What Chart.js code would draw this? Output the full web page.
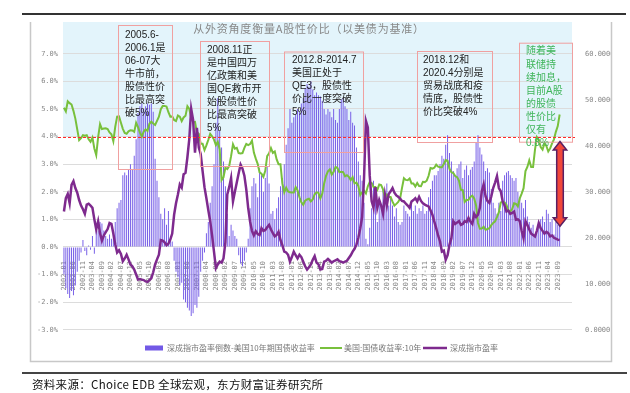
<!DOCTYPE html>
<html><head><meta charset="utf-8">
<script src="https://cdn.jsdelivr.net/npm/chart.js@4.4.0/dist/chart.umd.min.js"></script>
<style>html,body{margin:0;padding:0;background:#fff}#wrap{width:630px;height:393px}</style>
</head><body><div id="wrap"><canvas id="c" width="630" height="393"></canvas></div>
<script>
// monthly categories 2002-01 .. 2024-04 (data ends 2023-10)
const months = [];
for (let y = 2002; y <= 2024; y++) for (let m = 1; m <= 12; m++) {
  if (y === 2024 && m > 4) break;
  months.push(y + '-' + String(m).padStart(2, '0'));
}

// 深成指市盈率倒数-美国10年期国债收益率 (%)
const spread = [
  -1.0,-1.5,-1.7,-1.85,-1.6,-1.75,-1.4,-0.9,-0.5,-0.2,0.25,-0.15,
  -0.3,0.05,-0.1,0.4,-0.25,0.85,0.6,0.9,0.85,0.6,0.4,0.3,
  0.45,0.3,0.5,0.9,1.4,1.6,1.7,2.6,2.7,2.6,2.8,3.0,
  2.8,3.3,3.9,4.85,5.1,5.2,5.0,5.1,5.2,5.15,5.2,4.9,
  3.2,2.4,1.8,1.2,1.0,1.4,0.8,1.3,0.3,0.2,-0.5,-0.9,
  -1.1,-1.4,-1.3,-1.9,-2.0,-2.2,-2.3,-2.5,-2.4,-2.1,-2.2,-1.8,
  -0.9,-0.5,-0.2,0.5,0.9,1.6,2.2,3.0,4.5,5.4,4.2,3.6,
  3.1,2.2,1.2,0.4,0.8,0.6,0.4,0.3,-0.3,-0.6,-0.7,-0.5,
  -0.2,0.3,1.4,2.2,2.5,2.3,1.8,2.85,2.6,2.0,2.5,2.9,
  2.3,1.2,1.3,1.0,1.4,1.8,2.2,2.5,3.0,3.7,4.3,5.0,
  4.5,4.7,4.8,5.0,4.9,5.2,5.4,5.75,5.9,5.8,6.0,5.7,
  5.5,5.6,5.5,5.45,5.3,5.0,4.8,5.0,4.9,4.7,5.0,4.6,
  4.5,5.0,5.34,5.4,5.1,5.0,4.6,4.9,4.5,4.4,3.6,3.1,
  2.6,2.4,1.6,0.3,0.1,0.7,1.4,2.4,1.9,0.9,1.6,1.5,
  2.1,1.7,2.3,1.5,1.8,1.5,1.1,1.4,0.9,0.8,0.9,1.5,
  1.3,1.2,1.1,1.6,1.3,1.5,1.2,1.4,1.3,1.5,1.2,1.3,
  1.8,2.1,2.4,2.6,2.6,2.75,3.0,3.3,3.2,3.7,4.05,3.4,
  3.1,2.75,2.6,2.85,3.0,3.1,2.5,2.8,2.95,2.6,2.8,2.9,
  3.1,3.8,4.05,3.6,3.35,3.1,2.75,2.85,2.7,2.1,1.6,1.4,
  1.2,1.6,1.3,2.4,2.6,2.7,2.75,2.6,2.5,2.4,2.5,2.0,
  1.8,1.6,1.4,1.7,1.1,0.9,0.7,0.8,0.45,0.5,0.9,1.0,
  1.1,0.9,1.35,1.2,0.9,1.0,0.45,0.9,0.8,0.8
];

// 美国:国债收益率:10年 (%)
const ust10y = [
  5.04,4.91,5.28,5.21,5.16,4.93,4.65,4.26,3.87,3.94,4.05,4.03,
  4.05,3.90,3.81,3.96,3.57,3.33,3.98,4.45,4.27,4.29,4.30,4.27,
  4.15,4.08,3.83,4.35,4.72,4.73,4.50,4.28,4.13,4.10,4.19,4.23,
  4.22,4.17,4.50,4.34,4.14,4.00,4.18,4.26,4.20,4.46,4.54,4.47,
  4.42,4.57,4.72,4.99,5.11,5.11,5.09,4.88,4.72,4.73,4.60,4.56,
  4.76,4.72,4.56,4.69,4.75,5.10,5.00,4.67,4.52,4.53,4.15,4.10,
  3.74,3.74,3.51,3.68,3.88,4.10,4.01,3.89,3.69,3.81,3.53,2.42,
  2.52,2.87,2.82,2.93,3.29,3.72,3.56,3.59,3.40,3.39,3.40,3.59,
  3.73,3.69,3.73,3.85,3.42,3.20,3.01,2.70,2.65,2.54,2.76,3.29,
  3.39,3.58,3.41,3.46,3.17,3.00,3.00,2.30,1.98,2.15,2.01,1.98,
  1.97,1.97,2.17,2.05,1.80,1.62,1.53,1.68,1.72,1.75,1.65,1.72,
  1.91,1.98,1.96,1.76,1.93,2.30,2.58,2.74,2.81,2.62,2.72,2.90,
  2.86,2.71,2.72,2.71,2.56,2.60,2.54,2.42,2.53,2.30,2.33,2.21,
  1.88,1.98,2.04,1.94,2.20,2.36,2.32,2.17,2.17,2.07,2.26,2.24,
  2.09,1.78,1.89,1.81,1.81,1.64,1.50,1.56,1.63,1.76,2.14,2.49,
  2.43,2.42,2.48,2.30,2.30,2.19,2.32,2.21,2.20,2.36,2.35,2.40,
  2.58,2.86,2.84,2.87,2.98,2.91,2.89,2.89,3.00,3.15,3.12,2.83,
  2.71,2.68,2.57,2.53,2.40,2.07,2.06,1.63,1.70,1.71,1.81,1.86,
  1.76,1.50,0.87,0.66,0.67,0.73,0.62,0.65,0.68,0.79,0.87,0.93,
  1.08,1.26,1.61,1.64,1.62,1.52,1.32,1.28,1.37,1.58,1.56,1.47,
  1.76,1.93,2.13,2.75,2.90,3.14,2.90,2.90,3.52,3.98,3.89,3.62,
  3.53,3.75,3.66,3.46,3.57,3.75,3.90,4.17,4.38,4.80
];

// 深成指市盈率 (right axis)
const szPE = [
  25.7,28.6,29.5,27.5,31.5,32.3,30.8,29.8,28.2,27.0,26.2,25.2,
  27.2,27.4,27.0,26.5,24.0,21.8,23.6,21.0,19.4,20.5,21.2,21.9,
  23.2,23.0,20.9,18.6,16.8,17.3,16.5,14.9,15.5,16.3,15.3,14.2,
  13.8,13.1,12.0,10.9,11.0,10.9,10.8,10.5,10.4,10.8,11.2,12.5,
  14.2,15.3,16.3,19.5,19.4,19.0,18.4,18.7,19.6,20.9,25.0,27.5,
  29.4,31.6,30.9,33.8,34.1,37.5,41.5,48.0,45.6,38.5,43.9,39.6,
  38.2,34.5,31.0,28.6,26.0,23.6,20.5,17.0,13.4,14.2,14.8,14.6,
  15.5,19.0,29.4,31.0,33.0,27.9,30.0,32.0,34.0,35.9,35.0,33.5,
  30.5,26.5,23.5,21.5,20.5,21.4,20.8,20.6,22.1,21.5,21.7,22.3,
  22.8,21.8,21.0,20.3,20.6,21.3,19.5,18.4,17.0,16.8,16.3,14.8,
  15.8,17.0,16.2,15.5,16.3,15.8,14.8,13.8,13.1,13.6,14.2,15.2,
  16.0,14.6,14.2,13.1,13.2,14.8,15.0,15.4,15.0,14.6,14.9,15.1,
  15.3,14.9,14.8,14.6,14.8,15.0,15.6,16.2,17.0,17.6,18.5,20.0,
  22.0,24.5,33.0,45.4,44.0,33.5,28.0,26.5,31.0,26.5,28.2,27.0,
  25.2,29.4,27.0,29.5,30.1,30.8,29.8,29.2,28.9,28.5,28.0,27.9,
  27.4,27.0,26.5,27.9,28.2,28.6,27.9,28.9,28.0,27.5,27.2,27.0,
  26.8,26.0,25.0,23.5,22.1,20.5,19.2,17.0,17.2,15.2,16.2,18.5,
  19.9,23.6,23.0,23.3,23.6,22.8,23.0,23.6,23.4,24.3,23.5,23.0,
  25.2,24.5,25.0,26.5,30.1,31.6,29.0,28.0,27.6,29.0,30.8,32.0,
  33.4,30.8,30.1,27.9,27.0,25.7,25.9,25.2,25.4,25.7,23.9,24.0,
  23.6,21.5,19.9,23.6,22.8,21.8,20.9,20.6,20.3,21.5,23.2,22.1,
  21.5,20.9,21.3,21.0,20.3,20.5,20.0,19.8,19.6,19.5
];

const leftTicks = [-3, -2, -1, 0, 1, 2, 3, 4, 5, 6, 7];
const rightTicks = [0, 10, 20, 30, 40, 50, 60];
const lastLabelIndex = 260; // 2023-09

const titleText = '从外资角度衡量A股性价比（以美债为基准）';
const sourceText = '资料来源：Choice EDB 全球宏观，东方财富证券研究所';
const notes = [
  { lines: ['2005.6-', '2006.1是', '06-07大', '牛市前，', '股债性价', '比最高突', '破5%'], box: [118, 25, 54, 144], tx: 125, ty: 35, color: '#222' },
  { lines: ['2008.11正', '是中国四万', '亿政策和美', '国QE救市开', '始股债性价', '比最高突破', '5%'], box: [200, 41, 69, 125], tx: 207, ty: 50, color: '#222' },
  { lines: ['2012.8-2014.7', '美国正处于', 'QE3，股债性', '价比一度突破', '5%'], box: [284, 51.5, 79, 100.5], tx: 292, ty: 60.5, color: '#222' },
  { lines: ['2018.12和', '2020.4分别是', '贸易战底和疫', '情底，股债性', '价比突破4%'], box: [417, 51, 75, 91], tx: 423, ty: 60, color: '#222' },
  { lines: ['随着美', '联储持', '续加息，', '目前A股', '的股债', '性价比', '仅有', '0.8%'], box: [519, 42.7, 53, 99], tx: 526, ty: 51.7, color: '#3fb55a' }
];

const BAR = '#7259e6', GREEN = '#78c03c', PURPLE = '#7e2a8e';
const CJK = '"Noto Sans CJK SC"';

const decor = {
  id: 'decor',
  beforeDraw(chart) {
    const { ctx, chartArea: a, scales } = chart;
    ctx.save();
    ctx.fillStyle = '#fff';
    ctx.fillRect(0, 0, chart.width, chart.height);
    ctx.fillStyle = '#e3f4fb';
    const y4 = scales.y.getPixelForValue(4);
    ctx.fillRect(a.left, a.top, a.right - a.left, y4 - a.top);
    ctx.restore();
  },
  afterDatasetsDraw(chart) {
    const { ctx, scales } = chart;
    const y4 = Math.round(scales.y.getPixelForValue(4)) + 0.5;
    ctx.save();
    ctx.strokeStyle = '#ff2a2a';
    ctx.lineWidth = 1;
    ctx.setLineDash([3, 2]);
    ctx.beginPath(); ctx.moveTo(58, y4); ctx.lineTo(575, y4); ctx.stroke();
    ctx.setLineDash([]);

    // notes
    notes.forEach(n => {
      ctx.strokeStyle = '#f0a0a0';
      ctx.lineWidth = 1;
      ctx.strokeRect(n.box[0] + 0.5, n.box[1] + 0.5, n.box[2], n.box[3]);
      ctx.fillStyle = n.color;
      ctx.font = '10px "Liberation Sans", ' + CJK;
      ctx.textBaseline = 'middle';
      ctx.textAlign = 'left';
      n.lines.forEach((t, k) => ctx.fillText(t, n.tx, n.ty + k * 13.05));
    });

    // double arrow from 3.8% down to 0.75%
    const cx = 560, top = scales.y.getPixelForValue(3.82), bot = scales.y.getPixelForValue(0.75);
    const hw = 6.7, bw = 3.3, hh = 8.5;
    ctx.beginPath();
    ctx.moveTo(cx, top);
    ctx.lineTo(cx + hw, top + hh); ctx.lineTo(cx + bw, top + hh);
    ctx.lineTo(cx + bw, bot - hh); ctx.lineTo(cx + hw, bot - hh);
    ctx.lineTo(cx, bot);
    ctx.lineTo(cx - hw, bot - hh); ctx.lineTo(cx - bw, bot - hh);
    ctx.lineTo(cx - bw, top + hh); ctx.lineTo(cx - hw, top + hh);
    ctx.closePath();
    ctx.fillStyle = '#f2473a';
    ctx.fill();
    ctx.strokeStyle = '#5a1f63';
    ctx.lineWidth = 1.5;
    ctx.stroke();
    ctx.restore();
  },
  afterDraw(chart) {
    const { ctx } = chart;
    ctx.save();
    // frame
    ctx.strokeStyle = '#c8c8c8';
    ctx.lineWidth = 1.5;
    ctx.beginPath();
    ctx.moveTo(30.5, 22); ctx.lineTo(30.5, 361.5); ctx.lineTo(611.5, 361.5); ctx.lineTo(611.5, 22);
    ctx.stroke();
    ctx.fillStyle = '#333';
    ctx.fillRect(22, 13, 604, 2);
    ctx.fillStyle = '#444';
    ctx.fillRect(22, 372, 605, 2);

    // title
    ctx.fillStyle = '#888';
    ctx.font = '11px ' + CJK;
    ctx.textAlign = 'center';
    ctx.textBaseline = 'middle';
    ctx.letterSpacing = '0.8px';
    ctx.fillText(titleText, 309, 29);
    ctx.letterSpacing = '0px';

    // legend
    const ly = 348;
    ctx.font = '8px ' + CJK;
    ctx.textAlign = 'left';
    ctx.fillStyle = BAR;
    ctx.fillRect(145, ly - 2.5, 18, 5);
    ctx.fillStyle = '#777';
    ctx.fillText(chart.data.datasets[0].label, 167, ly);
    ctx.strokeStyle = GREEN; ctx.lineWidth = 2;
    ctx.beginPath(); ctx.moveTo(320, ly); ctx.lineTo(342, ly); ctx.stroke();
    ctx.fillText(chart.data.datasets[1].label, 344, ly);
    ctx.strokeStyle = PURPLE; ctx.lineWidth = 2.5;
    ctx.beginPath(); ctx.moveTo(423, ly); ctx.lineTo(447, ly); ctx.stroke();
    ctx.fillText(chart.data.datasets[2].label, 450, ly);

    // source
    ctx.fillStyle = '#111';
    ctx.font = '11.5px ' + CJK;
    ctx.letterSpacing = '0.3px';
    ctx.fillText(sourceText, 32, 385);
    ctx.restore();
  }
};

const tickFont = { family: '"DejaVu Sans Mono"', size: 7 };

new Chart(document.getElementById('c'), {
  type: 'bar',
  data: {
    labels: months,
    datasets: [
      { type: 'bar', label: '深成指市盈率倒数-美国10年期国债收益率', data: spread, yAxisID: 'y',
        backgroundColor: BAR, barPercentage: 0.5, categoryPercentage: 1, order: 3 },
      { type: 'line', label: '美国:国债收益率:10年', data: ust10y, yAxisID: 'y',
        borderColor: GREEN, borderWidth: 2, pointRadius: 0, tension: 0, order: 2 },
      { type: 'line', label: '深成指市盈率', data: szPE, yAxisID: 'y1',
        borderColor: PURPLE, borderWidth: 2.5, pointRadius: 0, tension: 0, order: 1 }
    ]
  },
  options: {
    responsive: false,
    animation: false,
    devicePixelRatio: 1,
    layout: { padding: { left: 30, right: 18, top: 22, bottom: 52.2 } },
    plugins: { legend: { display: false }, tooltip: { enabled: false } },
    scales: {
      x: {
        type: 'category',
        position: { y: 0 },
        offset: true,
        grid: { display: false },
        border: { display: false },
        ticks: {
          autoSkip: false, minRotation: 90, maxRotation: 90, padding: 6,
          font: tickFont, color: '#888',
          callback(v, i) { return (i % 5 === 0 && i <= lastLabelIndex) ? this.getLabelForValue(v) : ''; }
        },
        afterFit(s) { s.height = 0; }
      },
      y: {
        position: 'left',
        min: -3.4, max: 8.15,
        grid: { color: '#dcdcdc', drawTicks: false },
        border: { display: false },
        ticks: { font: tickFont, color: '#888', padding: 5, callback: v => v.toFixed(1) + '%' },
        afterBuildTicks(s) { s.ticks = leftTicks.map(v => ({ value: v })); },
        afterFit(s) { s.width = 33; }
      },
      y1: {
        position: 'right',
        min: -2.4, max: 66.9,
        grid: { display: false },
        border: { display: false },
        ticks: { font: tickFont, color: '#888', padding: 5, callback: v => v.toFixed(4) },
        afterBuildTicks(s) { s.ticks = rightTicks.map(v => ({ value: v })); },
        afterFit(s) { s.width = 40; }
      }
    }
  },
  plugins: [decor]
});
</script></body></html>
